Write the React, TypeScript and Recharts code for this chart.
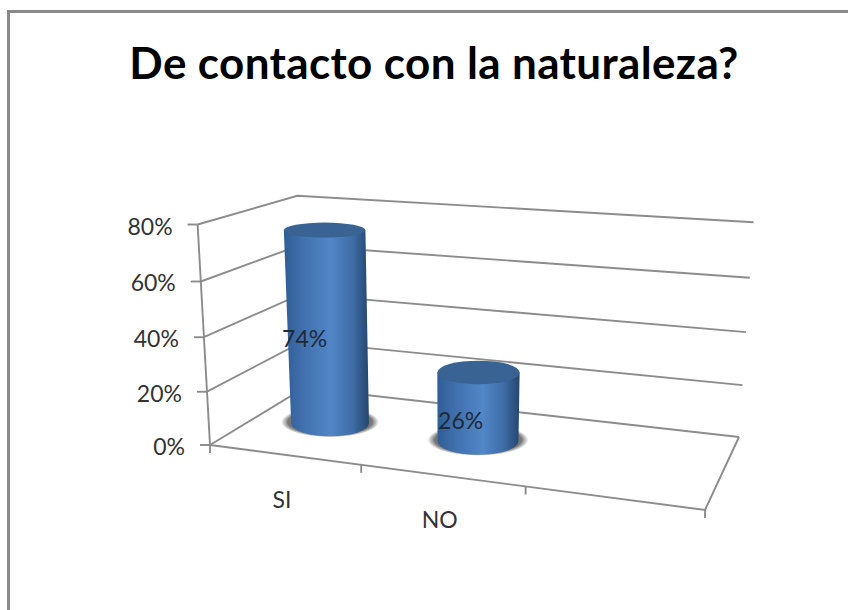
import React from "react";
import { BarChart, Bar, XAxis, YAxis, CartesianGrid, LabelList } from "recharts";

const CATEGORIES = ["SI", "NO", ""];
const VALUES = [0.74, 0.26, null];
const Y_TICKS = [0, 0.2, 0.4, 0.6, 0.8];
const TITLE = "De contacto con la naturaleza?";

const chartData = CATEGORIES.map((name, i) => ({ name, value: VALUES[i] }));

const LINE = "#8c8c8c";
const LINE_W = 1.9;
const TEXT = "#333333";
const FONT = "Lato, sans-serif";

// plot rectangle that recharts lays the scales out in
const PLOT = { left: 210, top: 225, width: 495, height: 220 };

// floor corners of the 3D box, used to build the perspective map
const FL = [210, 445];
const FR = [705, 510];
const BR = [739, 437];
const BL = [304, 388];

const dx1 = FR[0] - BR[0];
const dy1 = FR[1] - BR[1];
const dx2 = BL[0] - BR[0];
const dy2 = BL[1] - BR[1];
const sx = FL[0] - FR[0] + BR[0] - BL[0];
const sy = FL[1] - FR[1] + BR[1] - BL[1];
const den = dx1 * dy2 - dx2 * dy1;
const pg = (sx * dy2 - dx2 * sy) / den;
const ph = (dx1 * sy - sx * dy1) / den;
const pa = FR[0] - FL[0] + pg * FR[0];
const pb = BL[0] - FL[0] + ph * BL[0];
const pd = FR[1] - FL[1] + pg * FR[1];
const pe = BL[1] - FL[1] + ph * BL[1];

// u: across the categories, v: depth, h: height as a share of the axis
function project(u: number, v: number, h: number) {
  const w = pg * u + ph * v + 1;
  const fx = (pa * u + pb * v + FL[0]) / w;
  const fy = (pd * u + pe * v + FL[1]) / w;
  const rise = (220.5 / w) * (h - 0.045 * h * (1 - h));
  return {
    x: fx - (450 - fx) * 0.000235 * rise,
    y: fy - rise,
    w,
    rise,
  };
}

const toU = (x: number) => (x - PLOT.left) / PLOT.width;
const toH = (y: number) => (PLOT.top + PLOT.height - y) / PLOT.height;

function poly(points: { x: number; y: number }[]) {
  return points.map((p) => `${p.x.toFixed(1)},${p.y.toFixed(1)}`).join(" ");
}

function WallLine(props: any) {
  const h = toH(props.y1);
  const isFloor = Math.abs(h) < 0.001;
  const pts = [project(0, 0, h), project(0, 1, h), project(1, 1, h)];
  return (
    <g key={`wall-${props.y1}`}>
      <polyline points={poly(pts)} fill="none" stroke={LINE} strokeWidth={LINE_W} />
      {isFloor && (
        <>
          <polyline
            points={poly([project(1, 1, 0), project(1, 0, 0), project(0, 0, 0)])}
            fill="none"
            stroke={LINE}
            strokeWidth={LINE_W}
          />
          <polyline
            points={poly([project(0, 0, 1), project(0, 0, 0)])}
            fill="none"
            stroke={LINE}
            strokeWidth={LINE_W}
          />
          <line x1={FL[0]} y1={FL[1]} x2={FL[0]} y2={FL[1] + 8} stroke={LINE} strokeWidth={LINE_W} />
        </>
      )}
    </g>
  );
}

function YTick(props: any) {
  const p = project(0, 0, toH(props.y));
  return (
    <g>
      <line x1={p.x - 10} y1={p.y} x2={p.x} y2={p.y} stroke={LINE} strokeWidth={LINE_W} />
      <text
        x={p.x - 25}
        y={p.y + 1}
        textAnchor="end"
        dominantBaseline="central"
        fontFamily={FONT}
        fontSize={23}
        fill={TEXT}
      >
        {Math.round(props.payload.value * 100)}%
      </text>
    </g>
  );
}

function XTick(props: any) {
  const u = toU(props.x);
  const label = project(u, 0, 0);
  const mark = project(u + 1 / 6, 0, 0);
  return (
    <g>
      <line x1={mark.x} y1={mark.y} x2={mark.x} y2={mark.y + 8} stroke={LINE} strokeWidth={LINE_W} />
      <text
        x={label.x - 2}
        y={label.y + 44}
        textAnchor="middle"
        dominantBaseline="central"
        fontFamily={FONT}
        fontSize={23}
        fill={TEXT}
      >
        {props.payload.value}
      </text>
    </g>
  );
}

function Cylinder(props: any) {
  const { x, width, height, index } = props;
  if (!height) return null;
  const u = toU(x + width / 2);
  const base = project(u, 0.5, 0);
  const top = project(u, 0.5, height / PLOT.height);
  const rxBase = 41 / base.w;
  const ryBase = 14 / base.w;
  const rxTop = rxBase * (1 + top.rise * 0.00025);
  const ryTop = ryBase - top.rise * 0.03;
  const gradId = `cyl-body-${index}`;
  const shadowId = `cyl-shadow-${index}`;
  const body = [
    `M${base.x - rxBase},${base.y}`,
    `A${rxBase},${ryBase} 0 0 0 ${base.x + rxBase},${base.y}`,
    `L${top.x + rxTop},${top.y}`,
    `L${top.x - rxTop},${top.y}`,
    "Z",
  ].join(" ");
  return (
    <g>
      <defs>
        <linearGradient id={gradId} x1="0" y1="0" x2="1" y2="0">
          <stop offset="0%" stopColor="#2f5d94" />
          <stop offset="22%" stopColor="#4070ad" />
          <stop offset="55%" stopColor="#5286c7" />
          <stop offset="80%" stopColor="#3f6ea8" />
          <stop offset="100%" stopColor="#25466f" />
        </linearGradient>
        <radialGradient id={shadowId}>
          <stop offset="0%" stopColor="#6f6f6f" />
          <stop offset="86%" stopColor="#777777" />
          <stop offset="100%" stopColor="#777777" stopOpacity={0} />
        </radialGradient>
      </defs>
      <ellipse cx={base.x} cy={base.y - 1} rx={rxBase + 10} ry={ryBase + 2} fill={`url(#${shadowId})`} />
      <path d={body} fill={`url(#${gradId})`} />
      <ellipse cx={top.x} cy={top.y} rx={rxTop} ry={ryTop} fill="#386393" />
    </g>
  );
}

function BarValue(props: any) {
  const { x, width, height, value } = props;
  if (value == null) return null;
  const p = project(toU(x + width / 2), 0.25, height / PLOT.height / 2);
  return (
    <text
      x={p.x}
      y={p.y - 2}
      textAnchor="middle"
      dominantBaseline="central"
      fontFamily={FONT}
      fontSize={23}
      fill="#1f2a36"
    >
      {Math.round(value * 100)}%
    </text>
  );
}

export default function App() {
  return (
    <div style={{ position: "absolute", left: 0, top: 0, width: 848, height: 610, background: "#fff", overflow: "hidden" }}>
      <div
        style={{
          position: "absolute",
          left: 7,
          top: 10,
          width: 841,
          height: 600,
          boxSizing: "border-box",
          borderTop: "3px solid #8a8a8a",
          borderLeft: "3px solid #8a8a8a",
        }}
      />
      <div
        style={{
          position: "absolute",
          left: 0,
          top: 36,
          width: 868,
          textAlign: "center",
          fontFamily: FONT,
          fontWeight: 700,
          fontSize: 44,
          letterSpacing: 0.37,
          lineHeight: "52px",
          color: "#000",
        }}
      >
        {TITLE}
      </div>
      <div style={{ position: "absolute", left: 0, top: 0 }}>
        <BarChart
          width={848}
          height={610}
          data={chartData}
          margin={{
            top: PLOT.top,
            left: PLOT.left - 1,
            right: 848 - PLOT.left - PLOT.width,
            bottom: 610 - PLOT.top - PLOT.height - 1,
          }}
        >
          <CartesianGrid vertical={false} horizontal={WallLine} />
          <XAxis
            dataKey="name"
            height={1}
            interval={0}
            axisLine={false}
            tickLine={false}
            tick={XTick}
          />
          <YAxis
            width={1}
            domain={[0, 0.8]}
            ticks={Y_TICKS}
            axisLine={false}
            tickLine={false}
            tick={YTick}
          />
          <Bar dataKey="value" shape={Cylinder} isAnimationActive={false}>
            <LabelList dataKey="value" content={BarValue} />
          </Bar>
        </BarChart>
      </div>
    </div>
  );
}
